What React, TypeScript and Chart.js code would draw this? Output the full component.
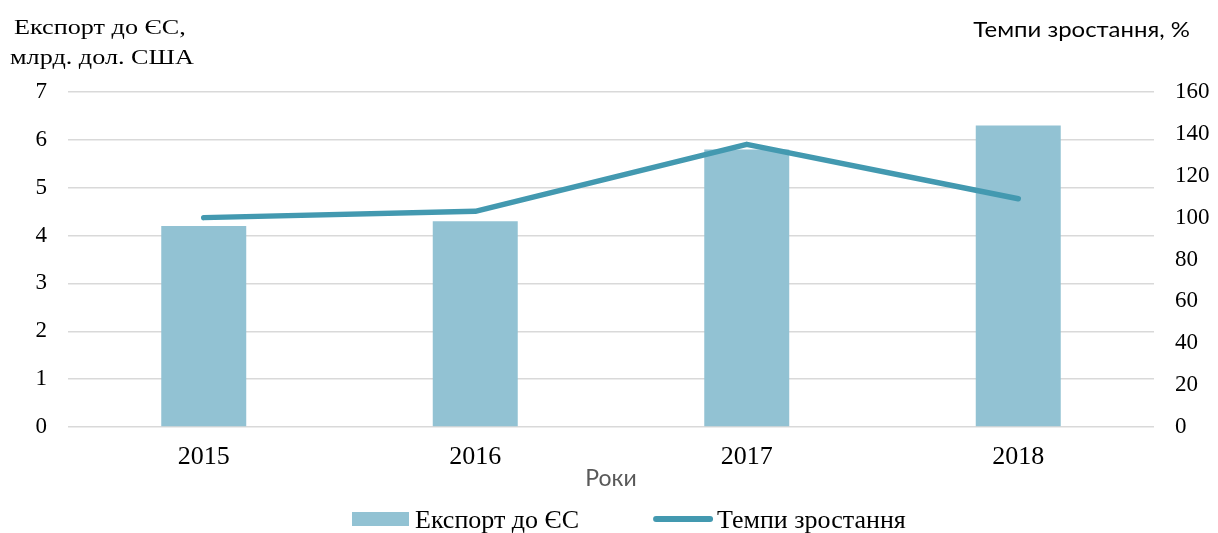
import React, { useEffect, useRef } from 'react';
import { Chart, registerables } from 'chart.js';

Chart.register(...registerables);

const years = ['2015', '2016', '2017', '2018'];
const exportEU = [4.2, 4.3, 5.8, 6.3];
const growthRate = [100, 103, 135, 109];
const seriesLabels = ['Експорт до ЄС', 'Темпи зростання'];
const leftTitleLines = ['Експорт до ЄС,', 'млрд. дол. США'];
const rightTitle = 'Темпи зростання, %';
const xTitle = 'Роки';

const BAR_COLOR = '#92C2D3';
const LINE_COLOR = '#4399B0';
const GRID_COLOR = '#D9D9D9';
const SERIF = '"Liberation Serif", "Times New Roman", serif';
const SANS = 'Lato, "Open Sans", sans-serif';

const W = 1218;
const H = 533;

// draw text horizontally scaled by sx (left aligned at x, or right aligned if align === 'right')
function drawScaled(ctx: any, text: string, x: number, y: number, sx: number, align: 'left' | 'right') {
  const w = ctx.measureText(text).width * sx;
  const left = align === 'right' ? x - w : x;
  ctx.save();
  ctx.translate(left, y);
  ctx.scale(sx, 1);
  ctx.textAlign = 'left';
  ctx.fillText(text, 0, 0);
  ctx.restore();
  return w;
}

const titlesPlugin = {
  id: 'titlesAndLegend',
  afterDraw(chart: any) {
    const ctx = chart.ctx;
    const area = chart.chartArea;
    ctx.save();
    ctx.textBaseline = 'alphabetic';
    // left axis title
    ctx.fillStyle = '#000';
    ctx.font = `20px ${SERIF}`;
    drawScaled(ctx, leftTitleLines[0], 14, 34, 1.31, 'left');
    drawScaled(ctx, leftTitleLines[1], 10, 64, 1.31, 'left');
    // right axis title
    ctx.font = `21px ${SANS}`;
    drawScaled(ctx, rightTitle, 1190, 37, 1.14, 'right');
    // x title
    ctx.fillStyle = '#595959';
    ctx.font = `23px ${SANS}`;
    ctx.textAlign = 'center';
    ctx.fillText(xTitle, (area.left + area.right) / 2, 486);

    // legend
    const ds = chart.data.datasets;
    ctx.font = `26px ${SERIF}`;
    ctx.textAlign = 'left';
    let x = 352;
    const cy = 519;
    ctx.fillStyle = ds[0].backgroundColor;
    ctx.fillRect(x, cy - 7, 57, 14);
    x += 57 + 6;
    ctx.fillStyle = '#000';
    ctx.fillText(ds[0].label, x, 528);
    x += ctx.measureText(ds[0].label).width + 74;
    ctx.strokeStyle = ds[1].borderColor;
    ctx.lineWidth = 6;
    ctx.lineCap = 'round';
    ctx.beginPath();
    ctx.moveTo(x + 3, cy);
    ctx.lineTo(x + 57, cy);
    ctx.stroke();
    x += 60 + 4;
    ctx.fillText(ds[1].label, x, 528);
    ctx.restore();
  },
};

export default function App() {
  const ref = useRef<HTMLCanvasElement | null>(null);

  useEffect(() => {
    if (!ref.current) return;
    const chart = new Chart(ref.current, {
      type: 'bar',
      data: {
        labels: years,
        datasets: [
          {
            type: 'bar',
            label: seriesLabels[0],
            data: exportEU,
            backgroundColor: BAR_COLOR,
            borderWidth: 0,
            barPercentage: 0.313,
            categoryPercentage: 1,
            yAxisID: 'y',
            order: 1,
          },
          {
            type: 'line',
            label: seriesLabels[1],
            data: growthRate,
            borderColor: LINE_COLOR,
            backgroundColor: LINE_COLOR,
            borderWidth: 5.5,
            pointRadius: 0,
            tension: 0,
            borderCapStyle: 'round',
            borderJoinStyle: 'round',
            yAxisID: 'y1',
            order: 0,
          } as any,
        ],
      },
      options: {
        animation: false,
        responsive: true,
        maintainAspectRatio: false,
        layout: { padding: { top: 92, left: 0, right: 0, bottom: 56 } },
        plugins: {
          legend: { display: false },
          tooltip: { enabled: false },
          title: { display: false },
        },
        scales: {
          x: {
            offset: true,
            grid: { display: false, drawTicks: false },
            border: { display: false },
            ticks: { color: '#000', font: { family: SERIF, size: 26 }, padding: 15 },
            afterFit: (s: any) => { s.height = 50; },
          },
          y: {
            position: 'left',
            min: 0,
            max: 7,
            ticks: { stepSize: 1, color: '#000', font: { family: SERIF, size: 23 }, padding: 21 },
            grid: { color: GRID_COLOR, lineWidth: 1.5, drawTicks: false },
            border: { display: false },
            afterFit: (s: any) => { s.width = 68; },
          },
          y1: {
            position: 'right',
            min: 0,
            max: 160,
            ticks: { stepSize: 20, color: '#000', font: { family: SERIF, size: 23 }, padding: 21 },
            grid: { display: false, drawTicks: false },
            border: { display: false },
            afterFit: (s: any) => { s.width = 64; },
          },
        },
      },
      plugins: [titlesPlugin],
    } as any);
    return () => chart.destroy();
  }, []);

  return (
    <div style={{ position: 'fixed', left: 0, top: 0, width: W, height: H, background: '#fff' }}>
      <canvas ref={ref} />
    </div>
  );
}
